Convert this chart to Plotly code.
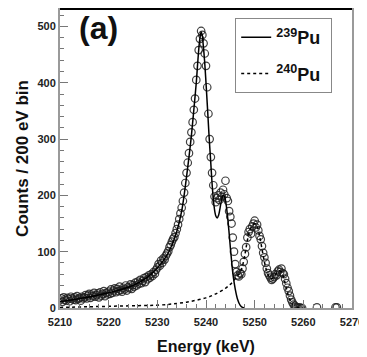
import plotly.graph_objects as go

# ---- data ----
energy_start = 5210.0
energy_step = 0.25
counts = [
    14, 17, 11, 19, 15, 13, 18, 16, 12, 20, 17, 15, 19, 14, 21, 16, 18, 13, 20, 17,
    19, 23, 17, 22, 25, 18, 24, 21, 27, 20, 23, 26, 19, 28, 22, 25, 30, 21, 27, 24,
    29, 25, 33, 27, 31, 35, 28, 34, 30, 38, 32, 29, 36, 33, 40, 31, 37, 35, 42, 34,
    41, 38, 45, 40, 47, 43, 50, 44, 48, 53, 46, 55, 51, 58, 54, 60, 57, 64, 61, 68,
    72, 78, 75, 84, 80, 88, 86, 93, 97, 101, 108, 112, 118, 123, 126, 133, 140, 148, 158, 168,
    178, 190, 205, 222, 240, 258, 275, 295, 312, 330, 352, 372, 405, 430, 458, 478, 492, 485, 470, 452,
    430, 392, 345, 300, 268, 240, 218, 198, 188, 195, 200, 192, 205, 198, 210, 202, 226, 195, 190, 172,
    162, 150, 125, 100, 78, 64, 58, 56, 62, 60, 70, 82, 96, 108, 125, 135, 140, 132, 145, 150,
    155, 143, 148, 138, 128, 122, 110, 98, 90, 80, 70, 62, 58, 54, 50, 52, 55, 60, 58, 65,
    68, 64, 70, 62, 60, 52, 44, 36, 30, 22, 15, 10, 6, 4, 2, 1, 0, 1, 0, 0,
]
energy = [energy_start + i * energy_step for i in range(len(counts))]
extra_energy = [5262.8, 5266.6, 5266.9]
extra_counts = [1, 1, 1]

pu239_energy = [5210, 5215, 5220, 5225, 5228, 5230, 5232, 5233, 5234, 5235, 5235.5, 5236,
                5236.5, 5237, 5237.5, 5238, 5238.3, 5238.6, 5238.8, 5239, 5239.2, 5239.4,
                5239.7, 5240, 5240.3, 5240.6, 5241, 5241.3, 5241.6, 5242, 5242.3, 5242.6,
                5242.9, 5243.2, 5243.5, 5243.8, 5244.1, 5244.4, 5244.7, 5245, 5245.3,
                5245.6, 5246, 5246.5, 5247, 5247.5, 5248]
pu239_counts = [11, 18, 27, 40, 55, 71, 94, 112, 136, 172, 200, 233,
                268, 306, 352, 400, 436, 468, 482, 490, 486, 470,
                440, 400, 356, 310, 255, 215, 185, 164, 160, 165,
                178, 192, 200, 198, 186, 165, 138, 108, 80,
                56, 34, 15, 5, 1, 0]

pu240_energy = [5210, 5215, 5220, 5225, 5230, 5234, 5237, 5240, 5242, 5244, 5245, 5246,
                5246.5, 5247, 5247.5, 5248, 5248.5, 5249, 5249.5, 5250, 5250.5, 5251,
                5251.5, 5252, 5252.5, 5253, 5253.5, 5254, 5254.5, 5255, 5255.5, 5256,
                5256.5, 5257, 5257.5, 5258, 5258.5, 5259, 5260]
pu240_counts = [1, 2, 3, 4, 5, 8, 12, 18, 25, 35, 42, 52,
                58, 63, 75, 95, 120, 138, 146, 150, 145, 128,
                105, 82, 65, 55, 52, 55, 62, 66, 64, 52,
                35, 20, 10, 5, 2, 0.5, 0]

x_ticks = [5210, 5220, 5230, 5240, 5250, 5260, 5270]
y_ticks = [0, 100, 200, 300, 400, 500]

FONT = "Liberation Sans, Arial, sans-serif"

fig = go.Figure()
fig.add_trace(go.Scatter(
    x=energy + extra_energy, y=counts + extra_counts, mode="markers",
    marker=dict(symbol="circle-open", size=7.5, color="rgba(30,30,30,0.85)", line=dict(width=1.2)),
    showlegend=False, hoverinfo="skip"))
fig.add_trace(go.Scatter(
    x=pu239_energy, y=pu239_counts, mode="lines", line=dict(color="black", width=1.5, shape="spline"),
    name="<sup>239</sup>Pu ", legendgroup="a"))
fig.add_trace(go.Scatter(
    x=pu240_energy, y=pu240_counts, mode="lines", line=dict(color="black", width=1.5, dash="dot", shape="spline"),
    name="<sup>240</sup>Pu ", legendgroup="b"))

axis_common = dict(
    showgrid=False, zeroline=False, showline=True, linecolor="#9a9a9a", linewidth=2,
    mirror=True, ticks="inside", ticklen=8, tickwidth=1, tickcolor="#777", automargin=False,
    tickfont=dict(family=FONT, size=11, color="#222", weight="bold"),
)
fig.update_xaxes(
    range=[5210, 5270], tickvals=x_ticks, ticktext=[str(v) for v in x_ticks],
    minor=dict(dtick=2, ticklen=4, ticks="inside", tickcolor="#777"),
    ticklabelstandoff=3,
    title=dict(text="<b>Energy (keV)</b>", font=dict(family=FONT, size=16, color="#111"), standoff=14),
    **axis_common)
fig.update_yaxes(
    range=[0, 531], tickvals=y_ticks, ticktext=[str(v) for v in y_ticks],
    minor=dict(dtick=20, ticklen=4, ticks="inside", tickcolor="#777"),
    title=dict(text="<b>Counts / 200 eV bin</b>", font=dict(family=FONT, size=17, color="#111"), standoff=4),
    **axis_common)

# the page body adds an 8 px margin, so the figure is sized to fit inside it
fig.update_layout(
    width=359, height=349,
    margin=dict(l=52, r=15, t=1, b=49),
    plot_bgcolor="white", paper_bgcolor="white",
    legend=dict(x=0.6, y=0.97, xanchor="left", yanchor="top",
                bordercolor="#888", borderwidth=1, bgcolor="white",
                font=dict(family=FONT, size=18, color="#111", weight="bold"),
                tracegroupgap=10, itemwidth=30),
    shapes=[dict(type="line", xref="paper", yref="paper", x0=0, x1=1, y0=1, y1=1,
                 line=dict(color="black", width=2))],
    annotations=[dict(text="<b>(a)</b>", xref="paper", yref="paper", x=0.058, y=1.005,
                      xanchor="left", yanchor="top", showarrow=False,
                      font=dict(family=FONT, size=32, color="#111"))],
)

fig.write_html("out.html")
